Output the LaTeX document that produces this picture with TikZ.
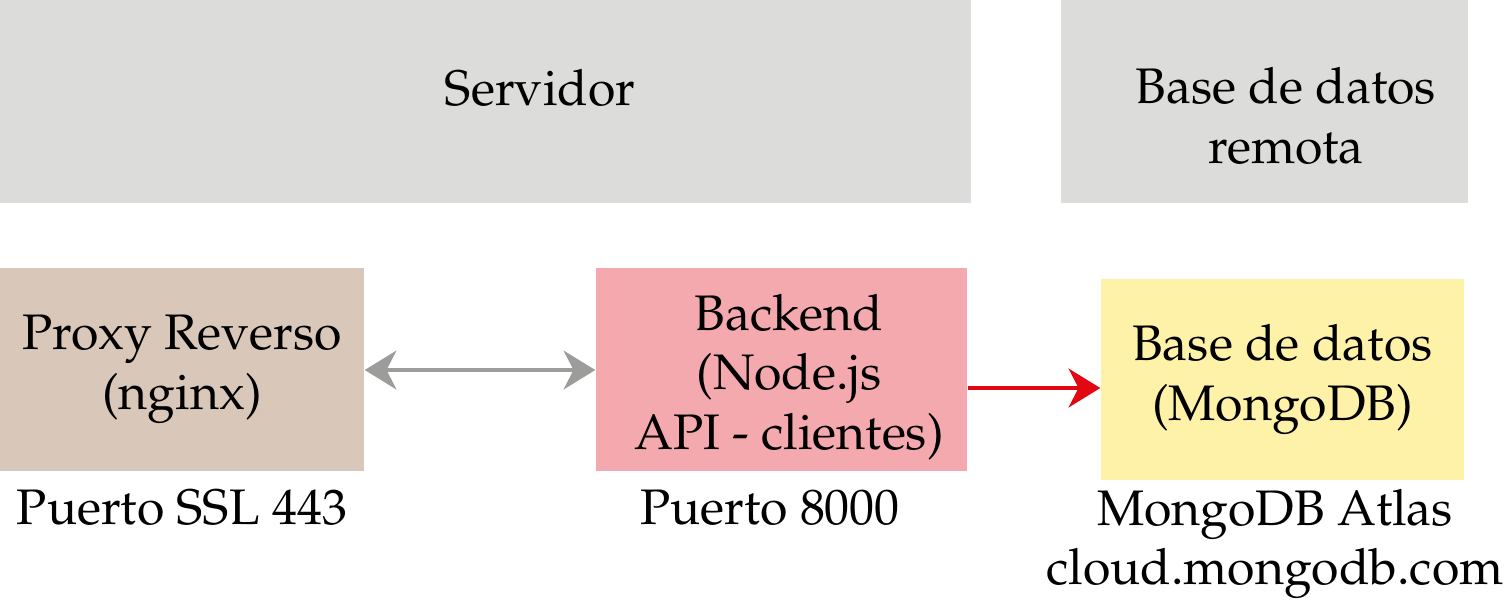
\documentclass[tikz,border=0pt]{standalone}
\usepackage[T1]{fontenc}
\usepackage{mathpazo}
\usetikzlibrary{arrows.meta, positioning}
\definecolor{zonegray}{HTML}{DCDCDA}
\definecolor{proxybrown}{HTML}{D9C8BA}
\definecolor{backpink}{HTML}{F4A9AE}
\definecolor{dbyellow}{HTML}{FEF1A8}
\definecolor{linkgray}{HTML}{9C9C9A}
\definecolor{linkred}{HTML}{E30613}
\tikzset{>={Stealth[length = 9pt, width = 11pt, inset = 2.8pt]}}
\tikzset{
	zone/.style = {fill = zonegray, inner sep = 0pt},
	box/.style = {inner sep = 0pt, align = center},
	txt/.style = {inner sep = 0pt, align = center},
	link/.style = {line width = 1.2pt}
}

\begin{document}
\begin{tikzpicture}[x = 0.01cm, y = -0.01cm, font = \fontsize{14.2}{17}\selectfont]
	\useasboundingbox (0,0) rectangle (1504,608);
	% zones
	\node[zone, minimum width = 971*0.01cm, minimum height = 203*0.01cm] (servidor) at (485.5,101.5) {};
	\node[zone, minimum width = 407*0.01cm, minimum height = 203*0.01cm] (remota) at (1264.5,101.5) {};
	\node[txt] (servidortxt) at (540,88) {Servidor};
	\node[txt] (remotatxt) at (1286,116) {Base de datos\\remota};
	% components
	\node[box, fill = proxybrown, minimum width = 364*0.01cm, minimum height = 203*0.01cm] (proxy) at (182,369.5) {Proxy Reverso\\(nginx)};
	\node[box, fill = backpink, minimum width = 371*0.01cm, minimum height = 203*0.01cm] (backend) at (781.5,369.5) {};
	\node[txt] (backendtxt) at (789,377) {Backend\\(Node.js\\API - clientes)};
	\node[box, fill = dbyellow, minimum width = 363*0.01cm, minimum height = 201*0.01cm] (mongo) at (1282.5,379.5) {Base de datos\\(MongoDB)};
	% ports
	\node[txt] (proxyport) at (182,508) {Puerto SSL 443};
	\node[txt] (backport) at (770,508) {Puerto 8000};
	\node[txt] (mongoport) at (1275,544) {MongoDB Atlas\\cloud.mongodb.com};
	% links
	\draw[link, linkgray, <->] (proxy.east |- 0,370) -- (backend.west |- 0,370);
	\draw[link, linkred, ->] (backend.east |- 0,388) -- (mongo.west |- 0,388);
\end{tikzpicture}
\end{document}
